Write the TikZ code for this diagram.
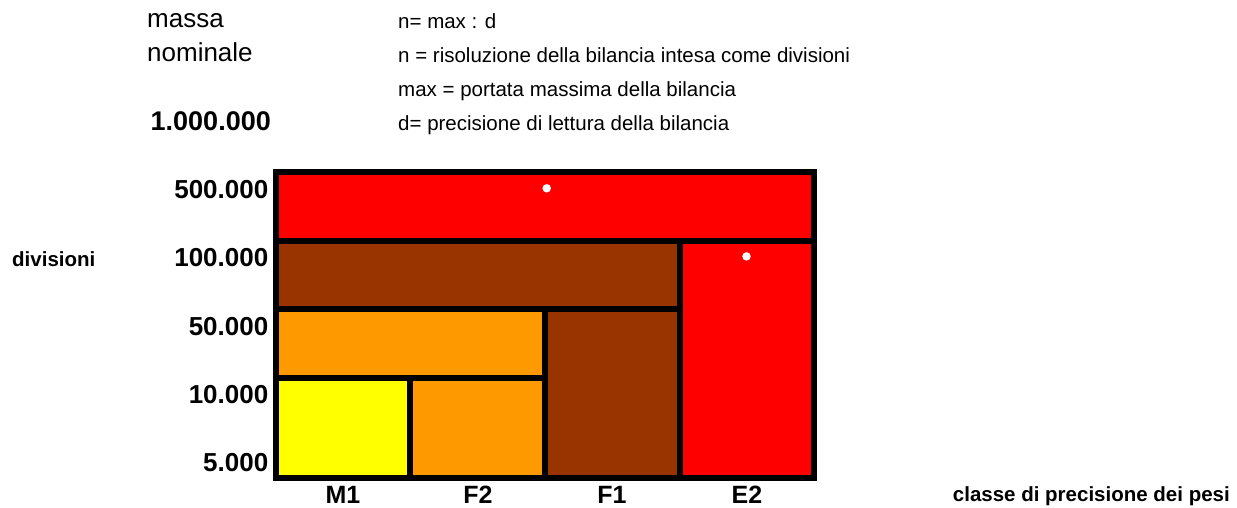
\documentclass[tikz,border=0pt]{standalone}
\usepackage{fontspec}
\setmainfont{Liberation Sans}
\definecolor{cred}{HTML}{FF0000}
\definecolor{cbrown}{HTML}{993300}
\definecolor{corange}{HTML}{FF9900}
\definecolor{cyellow}{HTML}{FFFF00}
\begin{document}
\begin{tikzpicture}[x=1pt,y=-1pt,
  cellbox/.style={draw=black,line width=6pt,inner sep=0pt,outer sep=0pt,anchor=north west},
  bigtxt/.style={inner sep=0pt,anchor=base west,font=\fontsize{26}{30}\selectfont},
  smalltxt/.style={inner sep=0pt,anchor=base west,font=\fontsize{20.5}{24}\selectfont},
  ylab/.style={inner sep=0pt,anchor=base east,font=\fontsize{26}{30}\selectfont\bfseries},
  xlab/.style={inner sep=0pt,anchor=base,font=\fontsize{25}{30}\selectfont\bfseries},
  axtitle/.style={inner sep=0pt,font=\fontsize{20.5}{24}\selectfont\bfseries},
  dot/.style={circle,fill=white,inner sep=0pt,minimum size=8.5pt}
]
\useasboundingbox (0,0) rectangle (1237,507);
% cells
\node[cellbox,fill=cred,minimum width=538.5pt,minimum height=68.7pt] (r500) at (275.5,172) {};
\node[cellbox,fill=cbrown,minimum width=404pt,minimum height=68.3pt] (r100) at (275.5,240.7) {};
\node[cellbox,fill=cred,minimum width=134.5pt,minimum height=237.3pt] (e2) at (679.5,240.7) {};
\node[cellbox,fill=corange,minimum width=269.5pt,minimum height=69pt] (r50) at (275.5,309) {};
\node[cellbox,fill=cbrown,minimum width=134.5pt,minimum height=169pt] (f1) at (545,309) {};
\node[cellbox,fill=cyellow,minimum width=134.5pt,minimum height=100pt] (m1) at (275.5,378) {};
\node[cellbox,fill=corange,minimum width=135pt,minimum height=100pt] (f2) at (410,378) {};
% dots
\node[dot] (d1) at (546.7,188.3) {};
\node[dot] (d2) at (746.5,256.4) {};
% header texts
\node[bigtxt] (massa) at (147,27.5) {massa};
\node[bigtxt] (nominale) at (147,61.7) {nominale};
\node[bigtxt,font=\fontsize{27}{30}\selectfont\bfseries] (million) at (150.5,130) {1.000.000};
\node[smalltxt] (f1t) at (398,28) {n= max : d};
\node[smalltxt] (f2t) at (398,62) {n = risoluzione della bilancia intesa come divisioni};
\node[smalltxt] (f3t) at (398,96) {max = portata massima della bilancia};
\node[smalltxt] (f4t) at (398,130) {d= precisione di lettura della bilancia};
% y labels
\node[ylab] (y500) at (268.5,198.3) {500.000};
\node[ylab] (y100) at (268.5,266.7) {100.000};
\node[ylab] (y50) at (268.5,335.2) {50.000};
\node[ylab] (y10) at (268.5,403.5) {10.000};
\node[ylab] (y5) at (268.5,471.8) {5.000};
\node[axtitle,anchor=base west] (div) at (12,266) {divisioni};
% x labels
\node[xlab] (xm1) at (343,503) {M1};
\node[xlab] (xf2) at (478,503) {F2};
\node[xlab] (xf1) at (612,503) {F1};
\node[xlab] (xe2) at (747,503) {E2};
\node[axtitle,anchor=base east] (cls) at (1230,501.5) {classe di precisione dei pesi};
\end{tikzpicture}
\end{document}
